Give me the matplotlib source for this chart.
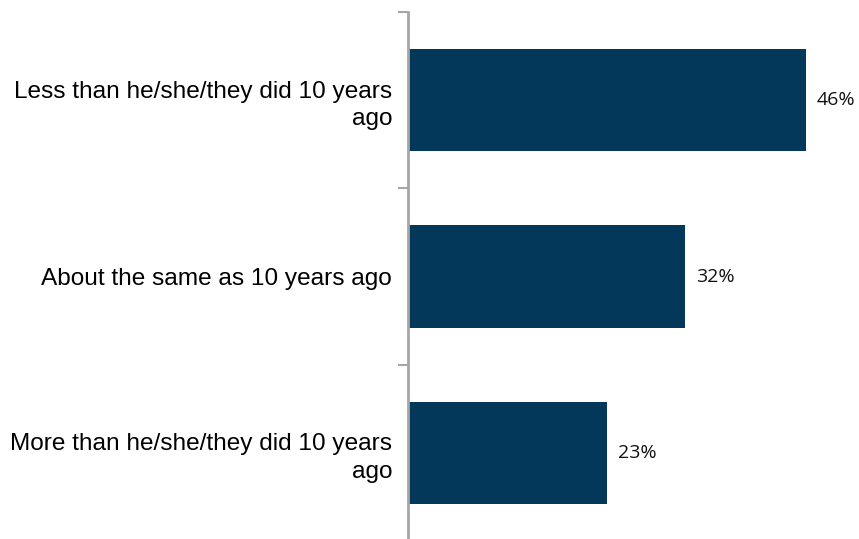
import matplotlib
matplotlib.use("Agg")
import matplotlib.pyplot as plt
from matplotlib.ticker import FixedLocator

categories = ["Less than he/she/they did 10 years\nago",
              "About the same as 10 years ago",
              "More than he/she/they did 10 years\nago"]
values = [46, 32, 23]
value_labels = ["46%", "32%", "23%"]

W, H = 859, 539
fig = plt.figure(figsize=(W/100, H/100), dpi=100)
left = 408 / W
top = 1 - 12 / H
bottom = -2 / H
ax = fig.add_axes([left, bottom, 1 - left, top - bottom])

pos = list(range(len(categories)))
ax.barh(pos, values, height=0.58, color="#03385A", zorder=2)
ax.set_ylim(len(categories) - 0.5, -0.5)
ax.set_xlim(0, (W - 408) / 8.65)

for p, v, lab in zip(pos, values, value_labels):
    ax.text(v + 1.25, p, lab, va="center", ha="left", fontsize=14,
            family="Open Sans", color="#111111")

ax.yaxis.set_major_locator(FixedLocator([-0.5, 0.5, 1.5, 2.5]))
ax.set_yticklabels([])
ax.yaxis.set_minor_locator(FixedLocator(pos))
ax.set_yticklabels(categories, minor=True, fontsize=17.6, family="Liberation Sans",
                   ha="right", linespacing=1.33)
ax.tick_params(axis="y", which="minor", length=0, pad=11.5)
ax.tick_params(axis="y", which="major", length=7, width=1.5, color="#A6A6A6", direction="out")

for s in ["top", "right", "bottom"]:
    ax.spines[s].set_visible(False)
ax.spines["left"].set_color("#A6A6A6")
ax.spines["left"].set_linewidth(2)
ax.set_xticks([])

fig.savefig("out.png", dpi=100)
